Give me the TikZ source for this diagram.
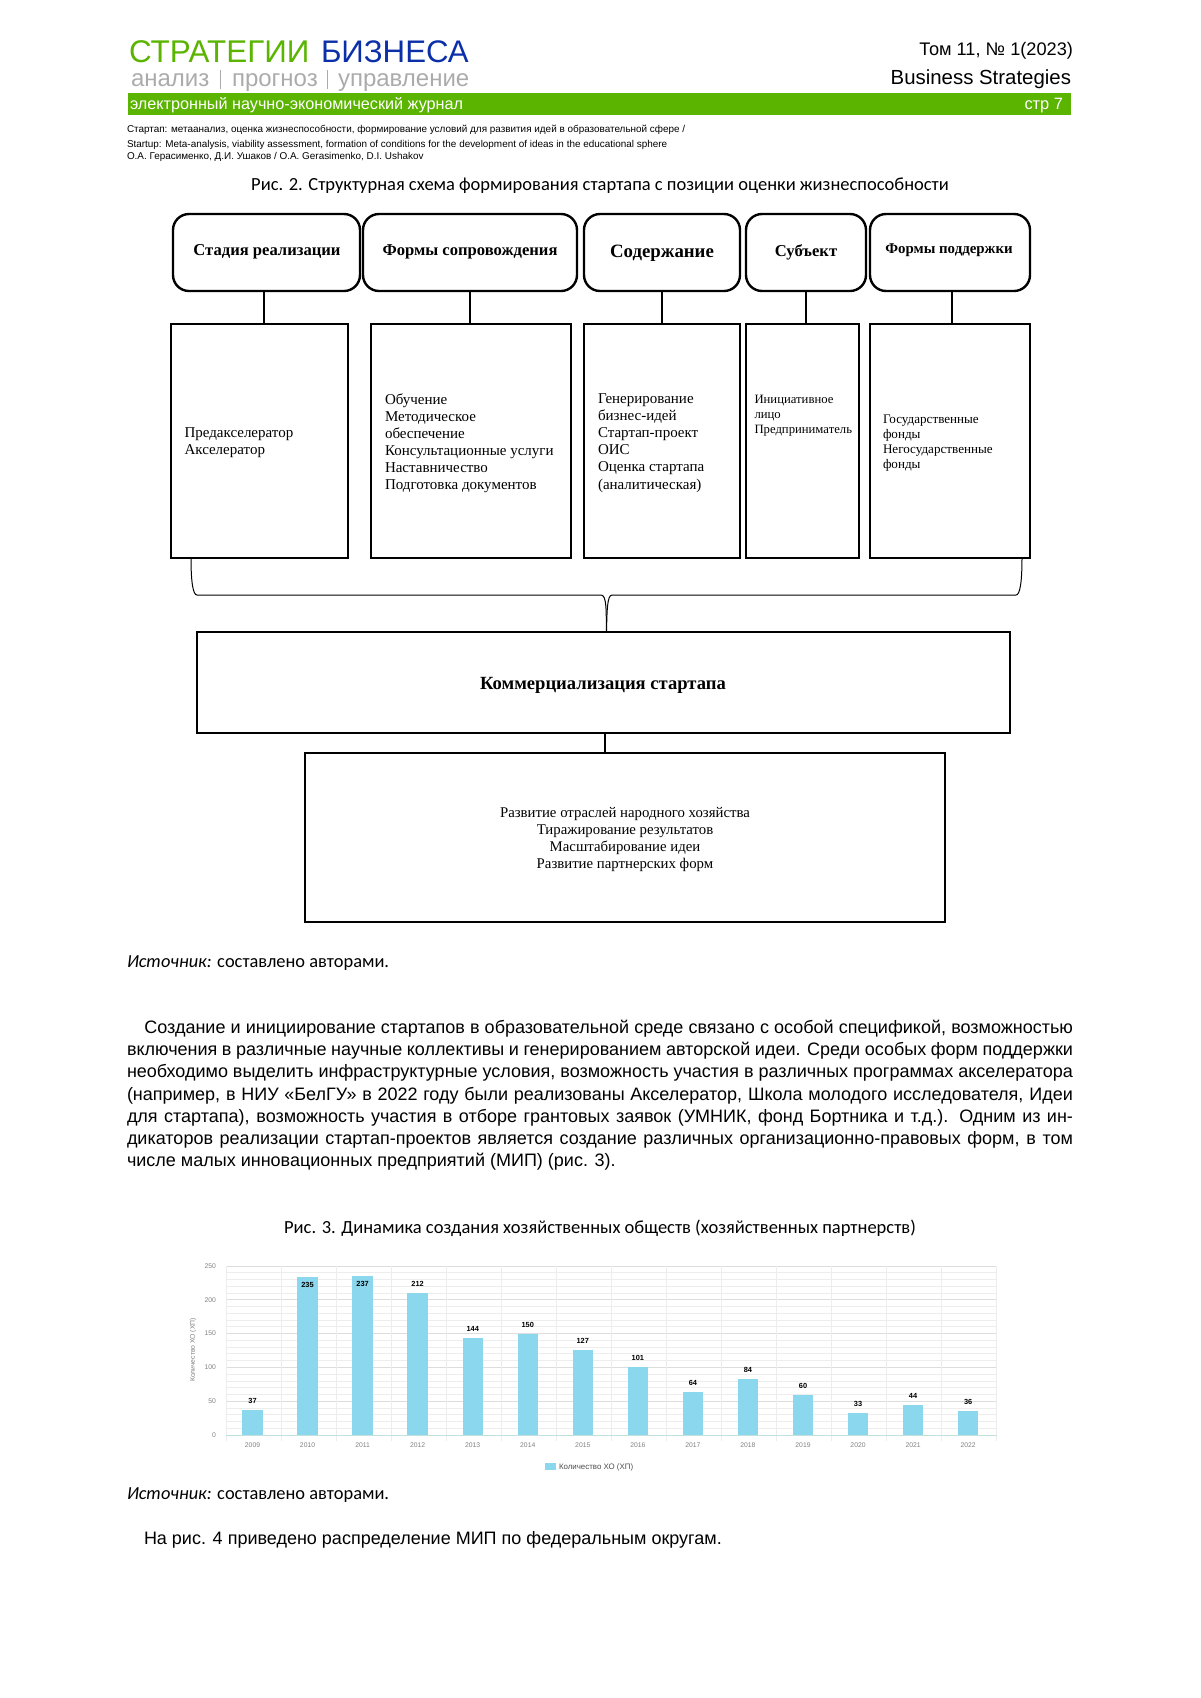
\documentclass[tikz,border=0pt]{standalone}
\usepackage{fontspec}
\setmainfont{Liberation Sans}
\newfontfamily\serifd{Liberation Serif}
\newfontfamily\capf{Carlito}
\usetikzlibrary{fit}
\definecolor{logogreen}{HTML}{5AB400}
\definecolor{logoblue}{HTML}{0A2FA8}
\definecolor{logogray}{HTML}{ABABAB}
\definecolor{barcol}{HTML}{8AD7EE}
\definecolor{gridl}{HTML}{EDEDED}
\definecolor{gridd}{HTML}{DDDDDD}
\definecolor{axisc}{HTML}{BFE3DC}
\newcommand\fsz[2]{\fontsize{#1}{#2}\selectfont}
\newcommand\jl[3]{\node[bodyline] (#1) at (127,#2) {\hbox to 473pt{#3}};}
\tikzset{
 x=.5pt,y=-.5pt,
 every node/.style={inner sep=0pt,outer sep=0pt},
 head/.style={draw,line width=1.2pt,rounded corners=8pt,inner sep=0pt},
 lowbox/.style={draw,line width=1.2pt,inner sep=0pt},
 conn/.style={line width=.6pt},
 brace/.style={line width=.5pt},
 hlabel/.style={font=\serifd\bfseries\fsz{8.3}{10},anchor=center},
 listl/.style={font=\serifd\fsz{7.5}{8.55},align=left,anchor=west},
 lists/.style={font=\serifd\fsz{6.35}{7.5},align=left,anchor=west},
 bodyline/.style={font=\fsz{9}{10},anchor=base west},
 caption/.style={font=\capf\fsz{9.25}{11},anchor=base},
 tick/.style={font=\fsz{3.4}{4},text=gray},
 val/.style={font=\bfseries\fsz{3.7}{4},text=black},
}
\begin{document}
\begin{tikzpicture}
\useasboundingbox (0,0) rectangle (1200,1698);
% page header
\node[anchor=base west,font=\fsz{15.7}{18},text=logogreen] (lg1) at (129,62) {СТРАТЕГИИ};
\node[anchor=base west,font=\fsz{15.6}{18},text=logoblue] (lg2) at (321,62) {БИЗНЕСА};
\node[anchor=base west,font=\fsz{12}{14},text=logogray] (lg3) at (131,86) {анализ};
\node[anchor=base west,font=\fsz{12}{14},text=logogray] (lg4) at (232,86) {прогноз};
\node[anchor=base west,font=\fsz{12}{14},text=logogray] (lg5) at (338,86) {управление};
\draw[logogray,line width=.4pt] (220,70) -- (220,89) (327,70) -- (327,89);
\node[anchor=base east,font=\fsz{9.1}{11}] (vol) at (1073,55) {Том 11, № 1(2023)};
\node[anchor=base east,font=\fsz{10.2}{12}] (bs) at (1071,84) {Business Strategies};
\fill[logogreen] (127.5,93) rectangle (1071,115);
\node[anchor=base west,font=\fsz{8.1}{10},text=white] (bar1) at (130,109) {электронный научно-экономический журнал};
\node[anchor=base east,font=\fsz{8.2}{10},text=white] (bar2) at (1063,109) {стр 7};
\node[anchor=base west,font=\fsz{4.96}{6}] (s1) at (127,132) {Стартап: метаанализ, оценка жизнеспособности, формирование условий для развития идей в образовательной сфере /};
\node[anchor=base west,font=\fsz{4.96}{6}] (s2) at (127,147) {Startup: Meta-analysis, viability assessment, formation of conditions for the development of ideas in the educational sphere};
\node[anchor=base west,font=\fsz{4.96}{6}] (s3) at (127,159) {О.А. Герасименко, Д.И. Ушаков / O.A. Gerasimenko, D.I. Ushakov};
\node[caption] (cap2) at (600,190) {Рис. 2. Структурная схема формирования стартапа с позиции оценки жизнеспособности};
% header boxes
\node[head,fit={(173,214)(360,291)}] (h1) {};
\node[head,fit={(363,214)(577,291)}] (h2) {};
\node[head,fit={(584,214)(740,291)}] (h3) {};
\node[head,fit={(746,214)(866,291)}] (h4) {};
\node[head,fit={(870,214)(1030,291)}] (h5) {};
\node[hlabel] (t1) at (267,252) {Стадия реализации};
\node[hlabel] (t2) at (470,252) {Формы сопровождения};
\node[hlabel,font=\serifd\bfseries\fsz{9.4}{11}] (t3) at (662,253) {Содержание};
\node[hlabel] (t4) at (806,252) {Субъект};
\node[hlabel,font=\serifd\bfseries\fsz{7.45}{9}] (t5) at (949,250) {Формы поддержки};
% lower boxes
\node[lowbox,fit={(171,324)(348,558)}] (l1) {};
\node[lowbox,fit={(371,324)(571,558)}] (l2) {};
\node[lowbox,fit={(584,324)(740,558)}] (l3) {};
\node[lowbox,fit={(746,324)(859,558)}] (l4) {};
\node[lowbox,fit={(870,324)(1030,558)}] (l5) {};
\node[listl] (x1) at (184.5,442.5) {Предакселератор\\Акселератор};
\node[listl] (x2) at (385,443) {Обучение\\Методическое\\обеспечение\\Консультационные услуги\\Наставничество\\Подготовка документов};
\node[listl] (x3) at (598,443) {Генерирование\\бизнес-идей\\Стартап-проект\\ОИС\\Оценка стартапа\\(аналитическая)};
\node[lists] (x4) at (754.5,416) {Инициативное\\лицо\\Предприниматель};
\node[lists,font=\serifd\fsz{6.55}{7.5}] (x5) at (883,443) {Государственные\\фонды\\Негосударственные\\фонды};
\coordinate (c1) at (264,0);
\coordinate (c2) at (470,0);
\coordinate (c3) at (662,0);
\coordinate (c4) at (806,0);
\coordinate (c5) at (952,0);
\foreach \i in {1,...,5} \draw[conn] (h\i.south -| c\i) -- (l\i.north -| c\i);
% commercialisation
\node[lowbox,fit={(197,632)(1010,733)}] (k) {};
\node[hlabel,font=\serifd\bfseries\fsz{9.3}{11}] (kt) at (603,685) {Коммерциализация стартапа};
\node[lowbox,fit={(305,753)(945,922)}] (r) {};
\node[font=\serifd\fsz{7.4}{8.55},align=center] (rt) at (625,839.5) {Развитие отраслей народного хозяйства\\Тиражирование результатов\\Масштабирование идеи\\Развитие партнерских форм};
\coordinate (bl) at (191,0);
\coordinate (br) at (1022,0);
\coordinate (bm) at (606.5,0);
\draw[brace] (l1.south -| bl) .. controls (191,582) and (193,595) .. (197,595) -- (601,595) .. controls (607,595) and (606,612) .. (k.north -| bm);
\draw[brace] (l5.south -| br) .. controls (1022,582) and (1020,595) .. (1016,595) -- (612,595) .. controls (607,595) and (607,612) .. (k.north -| bm);
\coordinate (km) at (605,0);
\draw[conn] (k.south -| km) -- (r.north -| km);
% text
\node[anchor=base west,font=\capf\fsz{9.2}{11}] (src1) at (127,967) {\textit{Источник:} составлено авторами.};
\jl{p1}{1033}{\hspace{8.7pt}Создание и инициирование стартапов в образовательной среде связано с особой спецификой, возможностью}
\jl{p2}{1055}{включения в различные научные коллективы и генерированием авторской идеи. Среди особых форм поддержки}
\jl{p3}{1077}{необходимо выделить инфраструктурные условия, возможность участия в различных программах акселератора}
\jl{p4}{1100}{(например, в НИУ «БелГУ» в 2022 году были реализованы Акселератор, Школа молодого исследователя, Идеи}
\jl{p5}{1122}{для стартапа), возможность участия в отборе грантовых заявок (УМНИК, фонд Бортника и т.д.). Одним из ин-}
\jl{p6}{1144}{дикаторов реализации стартап-проектов является создание различных организационно-правовых форм, в том}
\node[bodyline] (p7) at (127,1166) {числе малых инновационных предприятий (МИП) (рис. 3).};
\node[caption] (cap3) at (600,1233) {Рис. 3. Динамика создания хозяйственных обществ (хозяйственных партнерств)};
% chart
\foreach \v in {0,10,...,250} \draw[gridl,line width=.4pt] (226,{1435-\v*.676}) -- (997,{1435-\v*.676});
\foreach \v in {50,100,...,250} \draw[gridd,line width=.4pt] (226,{1435-\v*.676}) -- (997,{1435-\v*.676});
\foreach \i in {0,...,14} \draw[gridl,line width=.4pt] ({226+\i*55.05},1266) -- ({226+\i*55.05},1441);
\foreach \i in {0,...,5} \node[tick,anchor=east] (yt\i) at (216,{1435-\i*33.8}) {\pgfmathparse{int(\i*50)}\pgfmathresult};
\foreach \val/\yr [count=\c from 0] in {37/2009,235/2010,237/2011,212/2012,144/2013,150/2014,127/2015,101/2016,64/2017,84/2018,60/2019,33/2020,44/2021,36/2022}{
  \fill[barcol] ({252.5+\c*55.05-10.2},1435) rectangle ({252.5+\c*55.05+10.2},{1435-\val*.672});
  \node[tick] (yr\c) at ({252.5+\c*55.05},1445) {\yr};
}
\foreach \val [count=\c from 0] in {37,235,237,212,144,150,127,101,64,84,60,33,44,36}{
  \pgfmathsetmacro\ypos{\val>230 ? 1435-\val*.672+8 : 1435-\val*.672-9}
  \node[val] (vl\c) at ({252.5+\c*55.05},\ypos) {\val};
}
\draw[axisc,line width=.5pt] (226,1435) -- (997,1435);
\node[tick,rotate=90] (ya) at (193,1350) {Количество ХО (ХП)};
\fill[barcol] (545,1463) rectangle (556,1470);
\node[anchor=west,font=\fsz{3.95}{4},text=black!70] (leg) at (559,1467) {Количество ХО (ХП)};
\node[anchor=base west,font=\capf\fsz{9.2}{11}] (src2) at (127,1499) {\textit{Источник:} составлено авторами.};
\node[bodyline] (end) at (144,1544) {На рис. 4 приведено распределение МИП по федеральным округам.};
\end{tikzpicture}
\end{document}
